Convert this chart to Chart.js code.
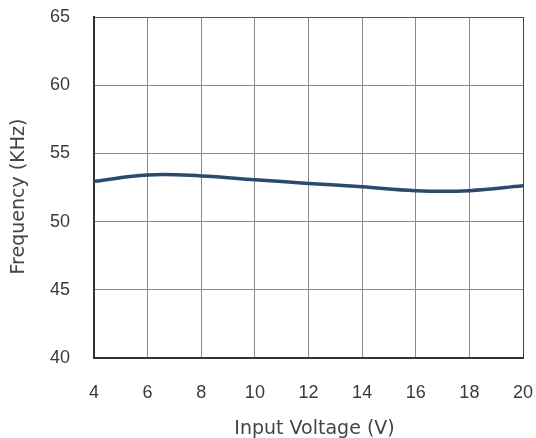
<!DOCTYPE html>
<html>
<head>
<meta charset="utf-8">
<script src="https://cdn.jsdelivr.net/npm/chart.js@4"></script>
<style>
  html, body { margin: 0; padding: 0; background: #fff; }
  #wrap { width: 536px; height: 438px; }
</style>
</head>
<body>
<div id="wrap"><canvas id="myChart" width="536" height="438"></canvas></div>
<script>
const inputVoltage = [4, 6, 8, 10, 12, 14, 16, 18, 20];
const frequencyKHz = [52.95, 53.42, 53.35, 53.07, 52.8, 52.55, 52.27, 52.27, 52.62];
const xTicks = [4, 6, 8, 10, 12, 14, 16, 18, 20];
const yTicks = [40, 45, 50, 55, 60, 65];

const font = { family: "'Liberation Sans', Arial, sans-serif", size: 18 };
const titleFont = { family: "'DejaVu Sans', Verdana, sans-serif", size: 19 };

const renderChart = () => {
  const ctx = document.getElementById("myChart");

  new Chart(ctx, {
    type: "line",
    data: {
      datasets: [
        {
          label: "Frequency",
          data: inputVoltage.map((v, i) => ({ x: v, y: frequencyKHz[i] })),
          borderColor: "#2a4a70",
          borderWidth: 3.5,
          pointRadius: 0,
          tension: 0.4,
          fill: false,
        },
      ],
    },
    options: {
      responsive: false,
      animation: false,
      layout: { padding: { top: 17, right: 13, left: 0, bottom: 0 } },
      plugins: {
        legend: { display: false },
        tooltip: { enabled: false },
      },
      scales: {
        x: {
          type: "linear",
          min: xTicks[0],
          max: xTicks[xTicks.length - 1],
          afterBuildTicks: (s) => { s.ticks = xTicks.map((v) => ({ value: v })); },
          afterFit: (s) => {
            s.height = 80;
            s.paddingLeft = 0;
            s.paddingRight = 0;
          },
          grid: {
            drawTicks: false,
            color: (c) => (c.tick && c.tick.value === 20 ? "#444" : "#8a8a8a"),
            lineWidth: 1,
          },
          border: { color: "#333", width: 2 },
          ticks: { color: "#3a3a3a", font: font, padding: 24, maxRotation: 0 },
          title: {
            display: true,
            text: "  Input Voltage (V)",
            color: "#444",
            font: titleFont,
            padding: { top: 0, bottom: -2 },
          },
        },
        y: {
          min: yTicks[0],
          max: yTicks[yTicks.length - 1],
          afterBuildTicks: (s) => { s.ticks = yTicks.map((v) => ({ value: v })); },
          afterFit: (s) => {
            s.width = 94;
            s.paddingTop = 0;
            s.paddingBottom = 0;
          },
          grid: {
            drawTicks: false,
            color: (c) => (c.tick && c.tick.value === 65 ? "#555" : "#8a8a8a"),
            lineWidth: 1,
          },
          border: { color: "#333", width: 2 },
          ticks: { color: "#3a3a3a", font: font, padding: 24 },
          title: {
            display: true,
            text: "Frequency (KHz)   ",
            color: "#444",
            font: titleFont,
            padding: { top: 8, bottom: 0 },
          },
        },
      },
    },
  });
};

renderChart();
</script>
</body>
</html>
